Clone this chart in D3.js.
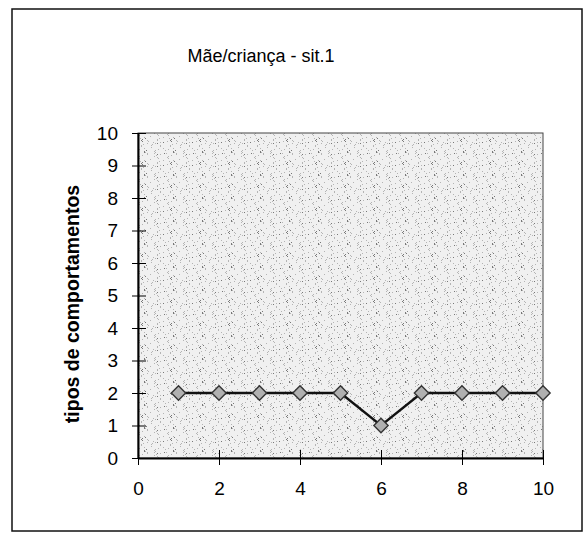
<!DOCTYPE html>
<html>
<head>
<meta charset="utf-8">
<script src="https://cdn.jsdelivr.net/npm/d3@7"></script>
<style>
  body { margin: 0; background: #fff; }
  text { font-family: Arial, "Liberation Sans", sans-serif; }
</style>
</head>
<body>
<svg id="chart" width="588" height="533"></svg>
<script>
const sessions = [1, 2, 3, 4, 5, 6, 7, 8, 9, 10];
const behaviours = [2, 2, 2, 2, 2, 1, 2, 2, 2, 2];
const xTicks = [0, 2, 4, 6, 8, 10];
const yTicks = [0, 1, 2, 3, 4, 5, 6, 7, 8, 9, 10];
const title = "Mãe/criança - sit.1";
const yTitle = "tipos de comportamentos";

const svg = d3.select("#chart");

// outer frame
svg.append("rect")
  .attr("x", 12).attr("y", 9)
  .attr("width", 570).attr("height", 522)
  .attr("fill", "none").attr("stroke", "#111").attr("stroke-width", 1.5);

const plotL = 138, plotR = 543, plotT = 133, plotB = 458;

const x = d3.scaleLinear().domain([0, 10]).range([plotL, plotR]);
const y = d3.scaleLinear().domain([0, 10]).range([plotB, plotT]);

// stippled grey texture for the plot area (fixed scatter in a tile)
const defs = svg.append("defs");
const tw = 29, th = 23;
const pat = defs.append("pattern")
  .attr("id", "stipple").attr("patternUnits", "userSpaceOnUse")
  .attr("width", tw).attr("height", th);
pat.append("rect").attr("width", tw).attr("height", th).attr("fill", "#f0f0f0");
for (let k = 0; k < 55; k++) {
  let px = (k * 17 + (k * k) % 11) % tw;
  let py = (k * 7 + (k * 13) % 5) % th;
  pat.append("rect").attr("x", px).attr("y", py)
    .attr("width", 1).attr("height", 1)
    .attr("fill", k % 5 == 0 ? "#777" : "#b4b4b4");
}

svg.append("rect")
  .attr("x", plotL).attr("y", plotT)
  .attr("width", plotR - plotL).attr("height", plotB - plotT)
  .attr("fill", "url(#stipple)")
  .attr("stroke", "#444").attr("stroke-width", 1);

// axes
const yAxis = d3.axisLeft(y).tickValues(yTicks).tickSize(0).tickPadding(0);
const gy = svg.append("g").attr("transform", "translate(" + plotL + ",0)").call(yAxis);
gy.select(".domain").attr("stroke", "#000").attr("stroke-width", 2);
gy.selectAll(".tick line").remove();
gy.selectAll(".tick").append("line")
  .attr("x1", -6).attr("x2", 8).attr("stroke", "#000").attr("stroke-width", 1);
gy.selectAll(".tick text")
  .attr("x", -20).attr("font-size", 19).attr("fill", "#000");

const xAxis = d3.axisBottom(x).tickValues(xTicks).tickSize(0).tickPadding(0);
const gx = svg.append("g").attr("transform", "translate(0," + plotB + ")").call(xAxis);
gx.select(".domain").attr("stroke", "#000").attr("stroke-width", 2);
gx.selectAll(".tick line").remove();
gx.selectAll(".tick").append("line")
  .attr("y1", -8).attr("y2", 7).attr("stroke", "#000").attr("stroke-width", 1);
gx.selectAll(".tick text")
  .attr("y", 24).attr("font-size", 19).attr("fill", "#000");

// line
const line = d3.line().x(function(d, i){ return x(sessions[i]); }).y(function(d){ return y(d); });
svg.append("path")
  .datum(behaviours)
  .attr("d", line)
  .attr("fill", "none").attr("stroke", "#111").attr("stroke-width", 2.3);

// markers
const sym = d3.symbol().type(d3.symbolDiamond2).size(130);
svg.selectAll(".mk")
  .data(behaviours)
  .enter().append("path")
  .attr("class", "mk")
  .attr("d", sym)
  .attr("transform", function(d, i){ return "translate(" + x(sessions[i]) + "," + y(d) + ")"; })
  .attr("fill", "#b0b0b0").attr("stroke", "#333").attr("stroke-width", 1.4);

// titles
svg.append("text")
  .attr("x", 261).attr("y", 62)
  .attr("text-anchor", "middle").attr("font-size", 18)
  .text(title);

svg.append("text")
  .attr("transform", "translate(79,304) rotate(-90)")
  .attr("text-anchor", "middle").attr("font-size", 19.5).attr("font-weight", "bold")
  .text(yTitle);
</script>
</body>
</html>
